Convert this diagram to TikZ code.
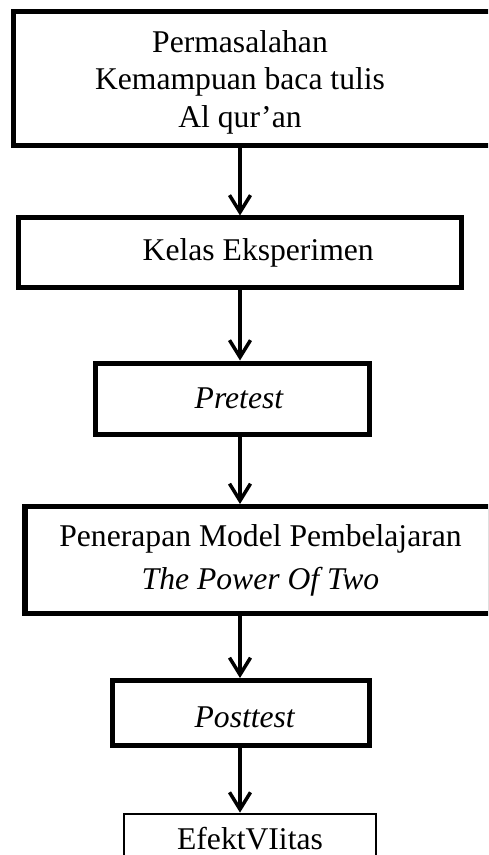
\documentclass[tikz,border=0pt]{standalone}
\usepackage{fontspec}
\setmainfont{Liberation Serif}
\usetikzlibrary{arrows.meta,positioning}

\begin{document}
\begin{tikzpicture}[
  box/.style={draw=black,line width=0.1cm,rectangle,inner sep=0pt,align=center,
    font=\fontsize{18}{21.3}\selectfont},
  thinbox/.style={box,line width=0.054cm},
  txt/.style={inner sep=0pt,align=center,font=\fontsize{18}{21.3}\selectfont},
  flow/.style={line width=0.07cm,-{Straight Barb[length=0.34cm,width=0.42cm]}}
]
  \useasboundingbox (0,0) rectangle (9.76,-17.1);
  \clip (0,0) rectangle (9.76,-17.1);
  \coordinate (axis) at (4.8,0);
  % boxes, top to bottom
  \node[box,minimum width=11.2cm,minimum height=2.69cm] (masalah) at (5.86,-1.575) {};
  \node[txt] (masalahtxt) at (4.8,-1.64)
    {Permasalahan\\Kemampuan baca tulis\\Al qur'an};
  \node[box,minimum width=8.85cm,minimum height=1.39cm] (kelas) at (4.805,-5.055)
    {\hspace*{0.72cm}Kelas Eksperimen};
  \node[box,minimum width=5.49cm,minimum height=1.43cm] (pretest) at (4.645,-7.975)
    {\hspace*{0.28cm}\textit{Pretest}};
  \node[box,minimum width=9.3cm,minimum height=2.14cm] (model) at (5.15,-11.2)
    {\hspace*{0.12cm}Penerapan Model Pembelajaran\\[3.1pt]\hspace*{0.12cm}\textit{The Power Of Two}};
  \node[box,minimum width=5.14cm,minimum height=1.3cm,text height=0.6cm] (posttest) at (4.82,-14.26)
    {\hspace*{0.16cm}\textit{Posttest}};
  \node[thinbox,minimum width=5.04cm,minimum height=1.0cm] (efek) at (5.0,-16.78)
    {EfektVIitas};
  % arrows
  \draw[flow] (masalah.south -| axis) -- (kelas.north -| axis);
  \draw[flow] (kelas.south -| axis) -- (pretest.north -| axis);
  \draw[flow] (pretest.south -| axis) -- (model.north -| axis);
  \draw[flow] (model.south -| axis) -- (posttest.north -| axis);
  \draw[flow] (posttest.south -| axis) -- (efek.north -| axis);
\end{tikzpicture}
\end{document}
